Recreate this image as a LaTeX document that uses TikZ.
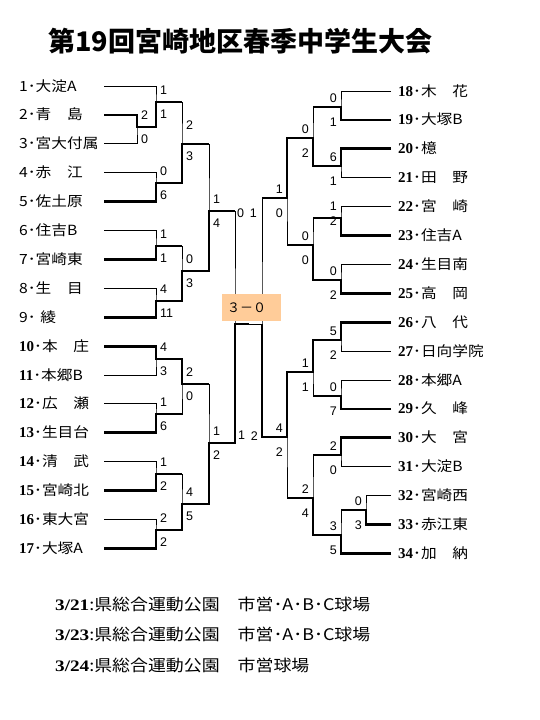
\documentclass[tikz,border=0pt]{standalone}
\usepackage{fontspec}
\setmainfont{Liberation Sans}
\newfontfamily\jpfont[FakeStretch=1.12]{Noto Sans CJK JP}
\newfontfamily\titlefont{Noto Sans CJK JP}
\newfontfamily\numfont{Liberation Serif}
\newfontfamily\datefont[FakeStretch=1.2]{Liberation Serif}
\usetikzlibrary{positioning}
\definecolor{scorepeach}{HTML}{FFCC99}
\newcommand{\teamno}[1]{\ifnum#1>9 {\numfont\bfseries\fontsize{15}{15}\selectfont #1}\else #1\fi}

\begin{document}
\begin{tikzpicture}[
        x=1pt, y=-1pt,
        every node/.style={inner sep=0pt},
        teamL/.style={anchor=west, text width=85pt, align=left, text height=10pt, text depth=0pt, font=\jpfont\fontsize{14}{14}\selectfont},
        teamR/.style={teamL, inner xsep=7pt},
        score/.style={font=\fontsize{12.5}{12.5}\selectfont},
        scoreL/.style={score, anchor=base west},
        scoreR/.style={score, anchor=base east},
        scorebox/.style={fill=scorepeach, minimum height=27pt, text width=49pt, inner xsep=5pt, align=left, text height=9.5pt, text depth=0pt, font=\titlefont\fontsize{13}{13}\selectfont},
        datetext/.style={text width=330pt, align=left, text height=12pt, text depth=0pt, font=\jpfont\fontsize{16}{16}\selectfont},
        lose/.style={line width=0.9pt},
        win/.style={line width=2.8pt}
    ]
        \useasboundingbox (0,0) rectangle (540,720);

        % Title
        \node[anchor=west, font=\titlefont\bfseries\fontsize{27}{27}\selectfont] (title) at (48,41) {第19回宮崎地区春季中学生大会};

        % Teams
        \foreach \num/\name in {1/大淀A, 2/青　島, 3/宮大付属, 4/赤　江, 5/佐土原, 6/住吉B, 7/宮崎東, 8/生　目, 9/\ 綾,
                10/本　庄, 11/本郷B, 12/広　瀬, 13/生目台, 14/清　武, 15/宮崎北, 16/東大宮, 17/大塚A}
            \node[teamL] (t\num) at (19, {86+(\num-1)*28.9}) {\teamno{\num}･\name};
        \foreach \num/\name in {18/木　花, 19/大塚B, 20/檍, 21/田　野, 22/宮　崎, 23/住吉A, 24/生目南, 25/高　岡, 26/八　代,
                27/日向学院, 28/本郷A, 29/久　峰, 30/大　宮, 31/大淀B, 32/宮崎西, 33/赤江東, 34/加　納}
            \node[teamR] (t\num) at (391, {91+(\num-18)*28.9}) {\teamno{\num}･\name};

        % Match points (left)
        \coordinate (mA) at (137,127);
        \coordinate (mB) at (156,102);
        \coordinate (mC) at (156,183);
        \coordinate (mD) at (182,144);
        \coordinate (mE) at (156,246);
        \coordinate (mF) at (156,301);
        \coordinate (mG) at (182,271);
        \coordinate (mH) at (209,211);
        \coordinate (mI) at (156,359);
        \coordinate (mJ) at (156,414);
        \coordinate (mK) at (182,384);
        \coordinate (mL) at (156,474);
        \coordinate (mM) at (156,530);
        \coordinate (mN) at (182,504);
        \coordinate (mO) at (209,443);
        \coordinate (mLS) at (235,324);

        % Match points (right)
        \coordinate (mRA) at (341,107);
        \coordinate (mRB) at (341,166);
        \coordinate (mRC) at (313,138);
        \coordinate (mRD) at (341,218);
        \coordinate (mRE) at (341,280);
        \coordinate (mRF) at (313,245);
        \coordinate (mRG) at (287,198);
        \coordinate (mRH) at (341,340);
        \coordinate (mRI) at (341,396);
        \coordinate (mRJ) at (313,372);
        \coordinate (mRK) at (341,455);
        \coordinate (mRL) at (366,510);
        \coordinate (mRM) at (341,535);
        \coordinate (mRN) at (313,498);
        \coordinate (mRO) at (287,437);
        \coordinate (mRS) at (262,324);
        \coordinate (mFin) at (248.5,324);

        % Bracket
        \foreach \a/\m/\b in {t2.east/mA/t3.east, t1.east/mB/mA, t4.east/mC/t5.east, mB/mD/mC,
                t6.east/mE/t7.east, t8.east/mF/t9.east, mE/mG/mF, mD/mH/mG,
                t10.east/mI/t11.east, t12.east/mJ/t13.east, mI/mK/mJ,
                t14.east/mL/t15.east, t16.east/mM/t17.east, mL/mN/mM, mK/mO/mN, mH/mLS/mO,
                t18.west/mRA/t19.west, t20.west/mRB/t21.west, mRA/mRC/mRB,
                t22.west/mRD/t23.west, t24.west/mRE/t25.west, mRD/mRF/mRE, mRC/mRG/mRF,
                t26.west/mRH/t27.west, t28.west/mRI/t29.west, mRH/mRJ/mRI,
                t30.west/mRK/t31.west, t32.west/mRL/t33.west, mRL/mRM/t34.west, mRK/mRN/mRM,
                mRJ/mRO/mRN, mRG/mRS/mRO}
            \draw[lose] (\a) -| (\m) |- (\b);
        \draw[lose] (mLS) -- (mRS);

        % Winners (left)
        \draw[win] (t2.east) -| (mA) -| (mB) -- (mB -| mD);
        \draw[win] (t5.east) -| (mC) -| (mD) -- (mD -| mH);
        \draw[win] (t7.east) -| (mE) -- (mE -| mG);
        \draw[win] (t9.east) -| (mF) -| (mG) -| (mH) -- (mH -| mLS);
        \draw[win] (t10.east) -| (mI) -| (mK) -- (mK -| mO);
        \draw[win] (t13.east) -| (mJ) -- (mJ -| mK);
        \draw[win] (t15.east) -| (mL) -- (mL -| mN);
        \draw[win] (t17.east) -| (mM) -| (mN) -| (mO) -| (mLS) -- (mFin);

        % Winners (right)
        \draw[win] (t19.west) -| (mRA) -- (mRA -| mRC);
        \draw[win] (t20.west) -| (mRB) -| (mRC) -| (mRG) -- (mRG -| mRS);
        \draw[win] (t23.west) -| (mRD) -- (mRD -| mRF);
        \draw[win] (t25.west) -| (mRE) -| (mRF) -- (mRF -| mRG);
        \draw[win] (t26.west) -| (mRH) -| (mRJ) -| (mRO) -| (mRS);
        \draw[win] (t29.west) -| (mRI) -- (mRI -| mRJ);
        \draw[win] (t30.west) -| (mRK) -- (mRK -| mRN);
        \draw[win] (t33.west) -| (mRL) -- (mRL -| mRM);
        \draw[win] (t34.west) -| (mRM) -| (mRN) -- (mRN -| mRO);

        % Final
        \node[scorebox] (final) at (251.5,307.5) {３－０};

        % Scores
        \foreach \m/\a/\b in {A/2/0, B/1/1, C/0/6, E/1/1, F/4/11, G/0/3, H/1/4, I/4/3, J/1/6, K/2/0, L/1/2, M/2/2, N/4/5, O/1/2} {
            \node[scoreL, xshift=4pt, yshift=8pt] (s\m1) at (m\m) {\a};
            \node[scoreL, xshift=4pt, yshift=-16pt] (s\m2) at (m\m) {\b};
        }
        \node[scoreL, xshift=4pt, yshift=15pt] (sD1) at (mD) {2};
        \node[scoreL, xshift=4pt, yshift=-16pt] (sD2) at (mD) {3};
        \foreach \m/\a/\b in {RA/0/1, RB/6/1, RC/0/2, RE/0/2, RF/0/0, RG/1/0, RH/5/2, RI/0/7, RJ/1/1, RK/2/0, RL/0/3, RM/3/5, RN/2/4, RO/4/2} {
            \node[scoreR, xshift=-4pt, yshift=5pt] (s\m1) at (m\m) {\a};
            \node[scoreR, xshift=-4pt, yshift=-19pt] (s\m2) at (m\m) {\b};
        }
        \node[scoreR, xshift=-4pt, yshift=8pt] (sRD1) at (mRD) {1};
        \node[scoreR, xshift=-4pt, yshift=-7pt] (sRD2) at (mRD) {2};
        \node[scoreL, xshift=2pt, yshift=-6pt] (sLS1) at (mLS |- mH) {0};
        \node[scoreL, xshift=3pt, yshift=4pt] (sLS2) at (mLS |- mO) {1};
        \node[scoreR, xshift=-5pt, yshift=-19pt] (sRS1) at (mRS |- mRG) {1};
        \node[scoreR, xshift=-4pt, yshift=-3pt] (sRS2) at (mRS |- mRO) {2};

        % Venues
        \node[datetext, anchor=west] (day1) at (55,604) {{\datefont\bfseries 3/21}:県総合運動公園　市営･A･B･C球場};
        \node[datetext, below=18.5pt of day1] (day2) {{\datefont\bfseries 3/23}:県総合運動公園　市営･A･B･C球場};
        \node[datetext, below=18.5pt of day2] (day3) {{\datefont\bfseries 3/24}:県総合運動公園　市営球場};

    \end{tikzpicture}
\end{document}
